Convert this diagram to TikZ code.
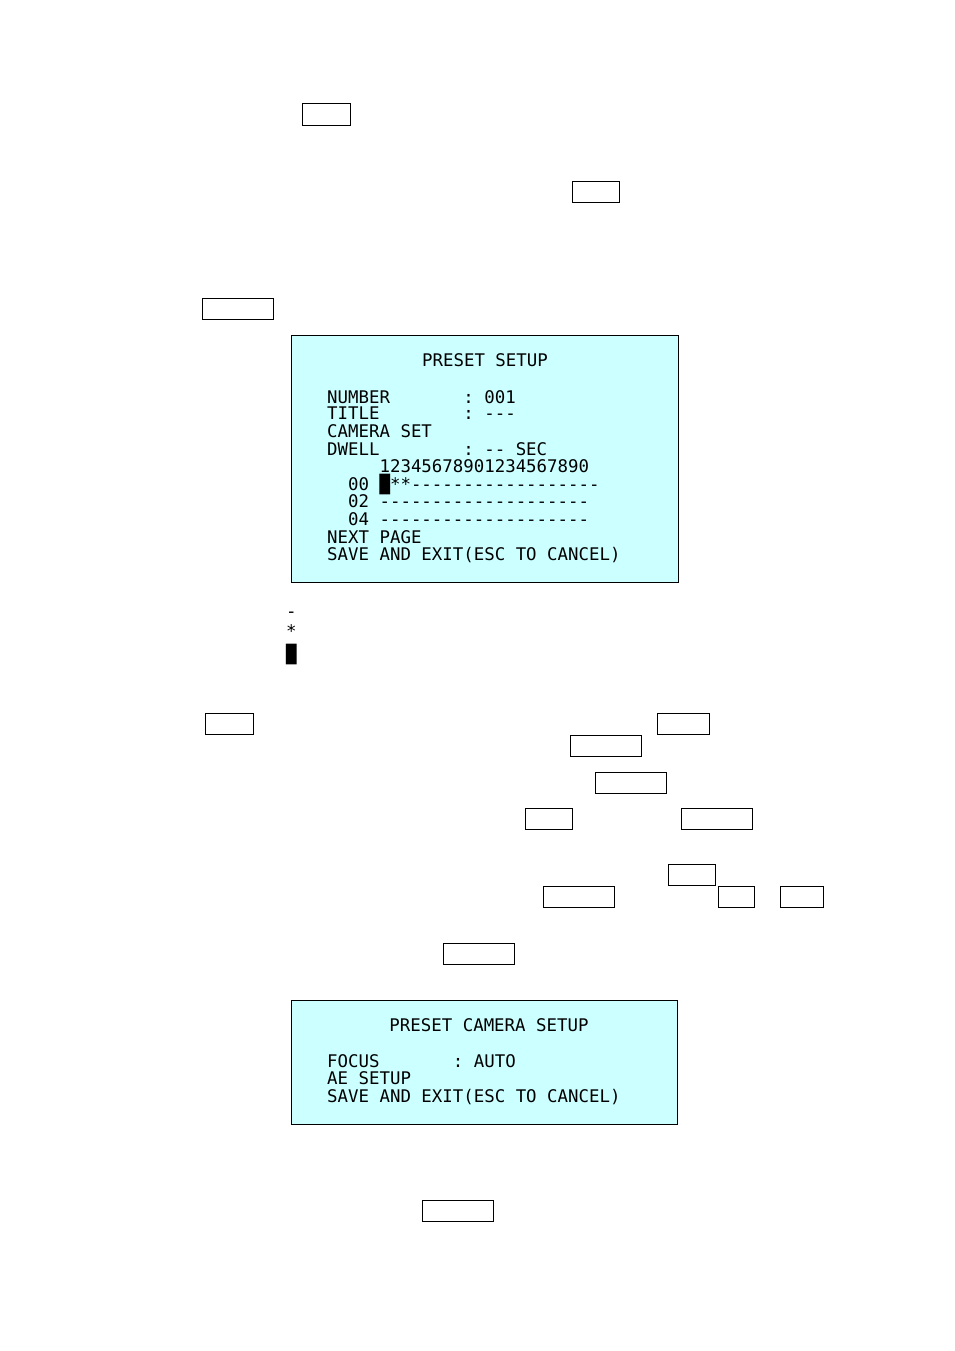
\documentclass[tikz,border=0pt]{standalone}
\usepackage{fontspec}
\newfontfamily\osd{DejaVu Sans Mono}
\definecolor{osdbg}{HTML}{CCFFFF}
\begin{document}
\begin{tikzpicture}[x=1pt,y=-1pt,
  blank/.style={draw=black,line width=0.8pt},
  screen/.style={draw=black,fill=osdbg,line width=0.8pt},
  ln/.style={anchor=base west,inner sep=0pt,font=\osd\fontsize{17.4}{20}\selectfont},
  ttl/.style={anchor=base,inner sep=0pt,font=\osd\fontsize{17.4}{20}\selectfont}]
\useasboundingbox (0,0) rectangle (954,1351);
\foreach \a/\b/\c/\d [count=\i] in {302/103/350/125,572/181/619/202,202/298/273/319,205/713/253/734,657/713/709/734,570/735/641/756,595/772/666/793,525/808/572/829,681/808/752/829,668/864/715/885,543/886/614/907,718/886/754/907,780/886/823/907,443/943/514/964,422/1200/493/1221}
  \draw[blank] (\a,\b) rectangle (\c,\d) coordinate (r\i);
\draw[screen] (291,335) rectangle (678,582);
\node[ttl] (t1) at (485,366) {PRESET SETUP};
\node[ln] (l1) at (327,403) {NUMBER\ \ \ \ \ \ \ : 001};
\node[ln] (l2) at (327,419) {TITLE\ \ \ \ \ \ \ \ : ---};
\node[ln] (l3) at (327,437) {CAMERA SET};
\node[ln] (l4) at (327,455) {DWELL\ \ \ \ \ \ \ \ : -- SEC};
\node[ln] (l5) at (327,472) {\ \ \ \ \ 12345678901234567890};
\node[ln] (l6) at (327,490) {\ \ 00 █**------------------};
\node[ln] (l7) at (327,507) {\ \ 02 --------------------};
\node[ln] (l8) at (327,525) {\ \ 04 --------------------};
\node[ln] (l9) at (327,543) {NEXT PAGE};
\node[ln] (l10) at (327,560) {SAVE AND EXIT(ESC TO CANCEL)};
\node[ln] (s1) at (286,617) {-};
\node[ln] (s2) at (286,637) {*};
\node[ln] (s3) at (286,660) {█};
\draw[screen] (291,1000) rectangle (677,1124);
\node[ttl] (t2) at (489,1031) {PRESET CAMERA SETUP};
\node[ln] (m1) at (327,1067) {FOCUS\ \ \ \ \ \ \ : AUTO};
\node[ln] (m2) at (327,1084) {AE SETUP};
\node[ln] (m3) at (327,1102) {SAVE AND EXIT(ESC TO CANCEL)};
\end{tikzpicture}
\end{document}
